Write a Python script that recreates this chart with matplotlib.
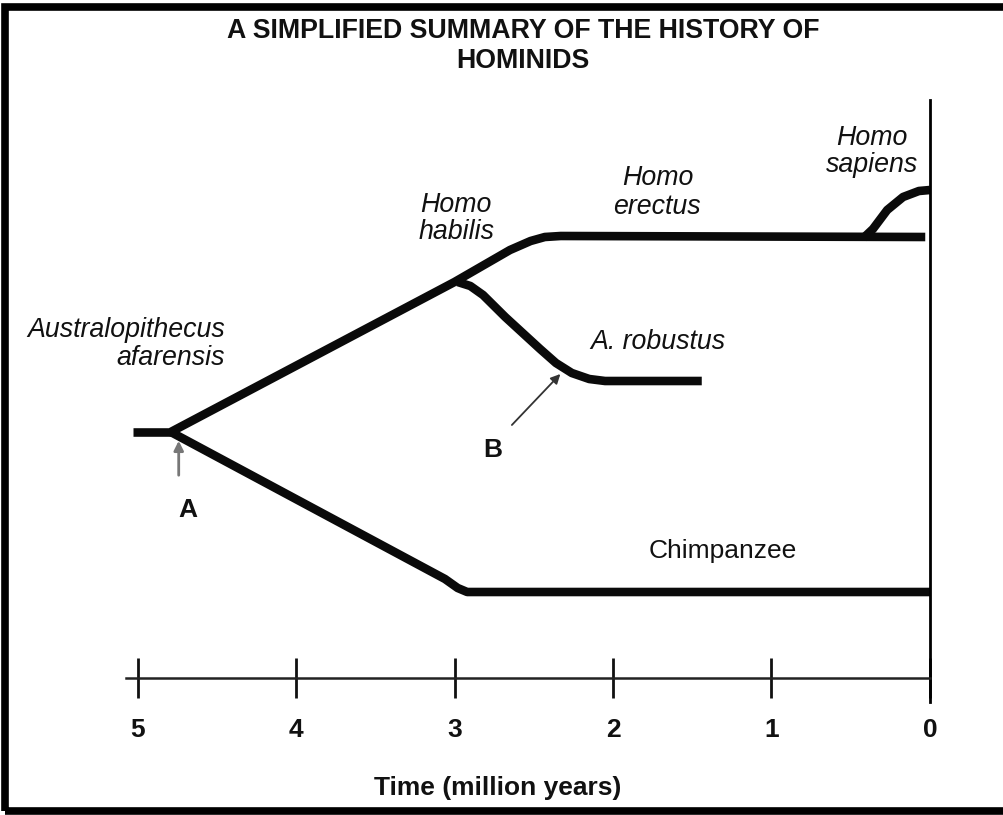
import matplotlib
matplotlib.use("Agg")
import matplotlib.pyplot as plt
from matplotlib.patches import Rectangle

plt.rcParams['font.family'] = ['Liberation Sans', 'DejaVu Sans']

# ---- data (x = million years ago, y = lineage level, arbitrary units) ----
stem_x = [5.03, 4.79]
stem_y = [3.83, 3.83]

homo_x = [4.79, 3.00, 2.65, 2.52, 2.43, 2.33, 0.03]
homo_y = [3.83, 5.33, 5.65, 5.74, 5.78, 5.79, 5.78]

robustus_x = [2.98, 2.90, 2.82, 2.68, 2.46, 2.36, 2.26, 2.15, 2.05, 1.44]
robustus_y = [5.33, 5.29, 5.20, 4.98, 4.66, 4.52, 4.42, 4.36, 4.34, 4.34]

sapiens_x = [0.42, 0.36, 0.27, 0.17, 0.07, 0.00]
sapiens_y = [5.77, 5.86, 6.05, 6.18, 6.24, 6.25]

chimp_x = [4.79, 3.06, 2.98, 2.92, 0.00]
chimp_y = [3.83, 2.36, 2.27, 2.23, 2.23]

time_ticks = [5, 4, 3, 2, 1, 0]
time_labels = ['5', '4', '3', '2', '1', '0']

title = "A SIMPLIFIED SUMMARY OF THE HISTORY OF\nHOMINIDS"
xlabel = "Time (million years)"

# ---- figure ----
fig = plt.figure(figsize=(10.04, 8.15), dpi=100)
ax = fig.add_axes([0, 0, 1, 1])
ax.set_xlim(930 / 158.5, -74 / 158.5)
ax.set_ylim(0, 8.15)

lw = 6.2
col = '#0a0a0a'
for xs, ys in [(stem_x, stem_y), (homo_x, homo_y), (robustus_x, robustus_y),
               (sapiens_x, sapiens_y), (chimp_x, chimp_y)]:
    ax.plot(xs, ys, color=col, lw=lw, solid_joinstyle='round', solid_capstyle='butt')

# time axis as bottom spine
for s in ['left', 'top']:
    ax.spines[s].set_visible(False)
ax.spines['bottom'].set_position(('data', 1.37))
ax.spines['bottom'].set_bounds(5.07, 0)
ax.spines['bottom'].set_linewidth(1.8)
ax.spines['bottom'].set_color('#222222')
ax.spines['right'].set_position(('data', 0))
ax.spines['right'].set_bounds(1.13, 7.15)
ax.spines['right'].set_linewidth(2.0)
ax.spines['right'].set_color('#000000')
ax.set_xticks(time_ticks)
ax.set_xticklabels(time_labels, fontsize=19, fontweight='bold')
ax.tick_params(axis='x', direction='inout', length=29, width=2.0, pad=14, colors='#111111')
ax.set_yticks([])

# labels
it = dict(fontsize=19.3, style='italic', color='#111111')
ax.text(4.448, 4.85, "Australopithecus", ha='right', va='center', **it)
ax.text(4.448, 4.57, "afarensis", ha='right', va='center', **it)
ax.text(2.99, 6.10, "Homo", ha='center', va='center', **it)
ax.text(2.99, 5.83, "habilis", ha='center', va='center', **it)
ax.text(1.72, 6.37, "Homo", ha='center', va='center', **it)
ax.text(1.72, 6.08, "erectus", ha='center', va='center', **it)
ax.text(2.145, 4.73, "A. robustus", ha='left', va='center', **it)
ax.text(0.366, 6.77, "Homo", ha='center', va='center', **it)
ax.text(0.366, 6.50, "sapiens", ha='center', va='center', **it)
ax.text(1.306, 2.64, "Chimpanzee", ha='center', va='center', fontsize=19, color='#111111')

ax.text(4.68, 3.05, "A", ha='center', va='center', fontsize=19, fontweight='bold', color='#111111')
ax.text(2.76, 3.65, "B", ha='center', va='center', fontsize=19, fontweight='bold', color='#111111')

ax.annotate("", xy=(4.74, 3.77), xytext=(4.74, 3.37),
            arrowprops=dict(arrowstyle='-|>', color='#777777', lw=2, mutation_scale=14))
ax.annotate("", xy=(2.32, 4.43), xytext=(2.65, 3.88),
            arrowprops=dict(arrowstyle='-|>', color='#333333', lw=1.3, mutation_scale=14))

ax.text(2.73, 0.27, xlabel, ha='center', va='center', fontsize=19, fontweight='bold', color='#111111')

fig.text(0.521, 1 - 46 / 815, title, ha='center', va='center', fontsize=19.3,
         fontweight='bold', linespacing=1.25, color='#111111')

# frame border (left, top, bottom visible)
fig.add_artist(Rectangle((0.0045, 0.005), 1.2, 0.9865, transform=fig.transFigure,
                         fill=False, lw=5.5, edgecolor='black', clip_on=False))

fig.savefig("out.png", dpi=100)
